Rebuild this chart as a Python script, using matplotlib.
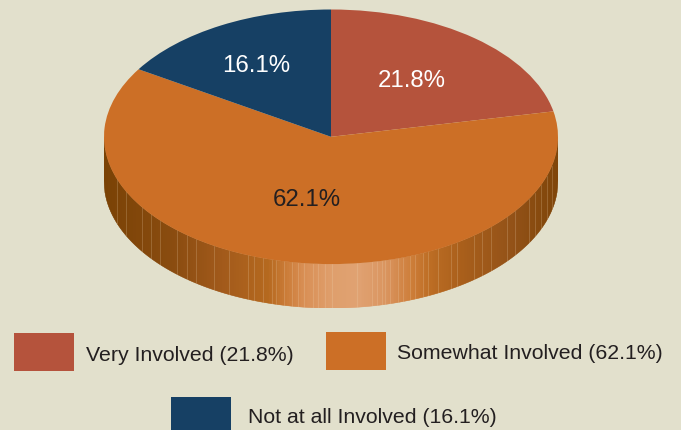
#!/usr/bin/env python
import numpy as np
from matplotlib import pyplot as plt
from matplotlib.colors import LinearSegmentedColormap
from matplotlib.patches import Rectangle

categories = ['Very Involved', 'Somewhat Involved', 'Not at all Involved']
values = [21.8, 62.1, 16.1]
colors = ['#b5533c', '#cc6f26', '#164064']

W, H = 681, 431
bg = '#e2e0cc'
dark = '#231f20'
plt.rcParams['font.family'] = ['Liberation Sans', 'DejaVu Sans']

# pie ellipse in pixels
cx, cy, rx, ry, depth = 331, 137.8, 227, 127.3, 44

fig = plt.figure(figsize=(W/100, H/100), dpi=100, facecolor=bg)
ax = fig.add_axes([(cx-rx)/W, 1-(cy+ry+depth)/H, 2*rx/W, (2*ry+depth)/H])
ax.axis('off')

# side of the disc, colour runs along the front edge
side = LinearSegmentedColormap.from_list('side', [
    (0.0, '#7a4205'), (0.15, '#8a4c10'), (0.26, '#a25a1b'), (0.36, '#b5691f'),
    (0.40, '#cb7c38'), (0.44, '#d98f55'), (0.50, '#df9f6c'), (0.56, '#e0a272'),
    (0.62, '#da9560'), (0.68, '#cd7d38'), (0.72, '#bc6d24'), (0.79, '#a95f1b'),
    (0.90, '#935218'), (1.0, '#7f4509')])
d = depth/ry
xs = np.linspace(-1, 1, 455)
for x0, x1 in zip(xs[:-1], xs[1:]):
    y0 = -np.sqrt(1-x0**2)
    y1 = -np.sqrt(1-x1**2)
    ax.fill([x0, x1, x1, x0], [y0, y1, y1-d, y0-d],
            color=side((x0+1)/2), lw=0.3, zorder=1)

# lighter seams on the side
seams = [117, 126, 142, 151, 160, 177, 187, 196, 214, 229, 248, 254, 263, 272,
         276, 284, 292, 298, 304, 313, 318, 325, 332, 357, 372, 377, 382, 385,
         390, 398, 403, 410, 415, 423, 428, 438, 451, 457, 474, 482, 491, 507,
         515, 529, 535, 541, 547, 552]
for s in seams:
    x = (s-cx)/rx
    y = -np.sqrt(1-x**2)
    ax.plot([x, x], [y, y-d], color='#f0d8b8', lw=0.5, alpha=0.3, zorder=2)

ax.pie(values, colors=colors, startangle=90, counterclock=False, radius=1,
       center=(0, 0), frame=False, wedgeprops={'zorder': 3})
ax.set_aspect('auto')
ax.set_xlim(-1, 1)
ax.set_ylim(-1-d, 1)

# overlay in pixel coordinates for text and legend
ov = fig.add_axes([0, 0, 1, 1])
ov.set_xlim(0, W)
ov.set_ylim(H, 0)
ov.axis('off')
ov.patch.set_alpha(0)

label_pos = [(412, 81), (306.5, 200), (256.5, 66)]
label_col = ['white', dark, 'white']
for v, p, c in zip(values, label_pos, label_col):
    ov.text(p[0], p[1], f'{v}%', color=c, fontsize=17.3, ha='center', va='center')

legend_pos = [(14, 333.5, 86, 356), (326, 332.5, 397, 354), (171, 398.5, 248, 417.5)]
for name, v, c, p in zip(categories, values, colors, legend_pos):
    ov.add_patch(Rectangle((p[0], p[1]), 60, 38, color=c, lw=0))
    ov.text(p[2], p[3], f'{name} ({v}%)', color=dark, fontsize=15.35,
            ha='left', va='center')

fig.savefig('out.png', dpi=100, facecolor=bg)
